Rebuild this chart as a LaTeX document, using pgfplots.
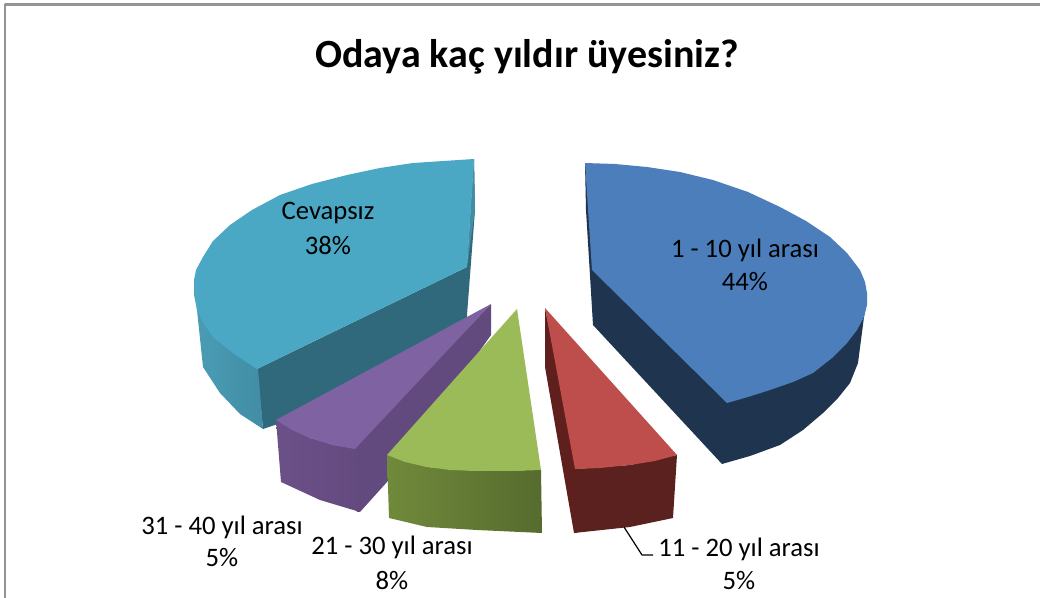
\documentclass[border=0pt]{standalone}
\usepackage{fontspec}
\setmainfont{Carlito}
\usepackage{pgfplots}
\pgfplotsset{compat=1.18}

\definecolor{tealTop}{HTML}{4BA8C4}
\definecolor{tealIn}{HTML}{30697B}
\definecolor{tealOutA}{HTML}{4A9DB5}
\definecolor{tealOutB}{HTML}{418DA5}
\definecolor{blueTop}{HTML}{4D7EBC}
\definecolor{blueDark}{HTML}{1F344F}
\definecolor{redTop}{HTML}{BE4E4B}
\definecolor{redDark}{HTML}{5A211F}
\definecolor{redIn}{HTML}{5E1F1D}
\definecolor{greenTop}{HTML}{9BBA58}
\definecolor{greenA}{HTML}{708A3B}
\definecolor{greenB}{HTML}{566B2E}
\definecolor{purpleTop}{HTML}{7F62A1}
\definecolor{purpleIn}{HTML}{634A7E}
\definecolor{purpleOutA}{HTML}{6C5089}
\definecolor{purpleOutB}{HTML}{634A7E}

\tikzset{lab/.style={font=\fontsize{20}{20}\selectfont}}

\begin{document}
\begin{tikzpicture}
\begin{axis}[
  scale only axis, width=780pt, height=448.5pt,
  xmin=0, xmax=1040, ymin=0, ymax=598, y dir=reverse,
  hide axis, clip=true,
  every axis plot/.append style={draw=none, mark=none, line join=round},
]
% page and frame
\addplot[fill=white] coordinates {(0,0)(1040,0)(1040,598)(0,598)};
\addplot[draw=black!42, line width=1.6pt] coordinates {(5,598)(5,4.5)(1040,4.5)};

% Cevapsiz 38%
\addplot[fill=tealIn] coordinates {(474,159)(475,210)(467,315)(467,360)(263,429)(257,369)(467,267)};
\addplot[left color=tealOutA, right color=tealOutB] coordinates {(194,280)(197,310)(203,367)(220,393)(240,414)(263,429)(258,369)(213,337)};
\addplot[fill=tealOutB] coordinates {(474,159)(475,210)(467,267)};
\addplot[fill=tealTop] coordinates {(474,159)(413,163)(380,168)(347,175)(312,184)(280,195)(252,210)(230,225)(213,241)(203,257)(196,270)(194,280)(194,295)(197,310)(204,324)(213,337)(234,354)(257,369)(467,267)};

% 31 - 40 yil arasi 5%
\addplot[fill=purpleIn] coordinates {(491,304)(352,449)(357,512)(360,512)(387,482)(491,335)};
\addplot[left color=purpleOutA, right color=purpleOutB] coordinates {(276,420)(310,438)(355,449)(360,512)(320,500)(281,482)};
\addplot[fill=purpleTop] coordinates {(491,304)(276,420)(292,430)(310,438)(332,445)(355,449)};

% 21 - 30 yil arasi 8%
\addplot[left color=greenA, right color=greenB] coordinates {(387,455)(427,467)(477,471)(541,470)(542,533)(477,530)(427,527)(389,518)};
\addplot[fill=greenTop] coordinates {(517,309)(387,455)(405,462)(427,467)(450,470)(477,471)(510,471)(541,470)};

% 11 - 20 yil arasi 5%
\addplot[fill=redIn] coordinates {(545,308)(578,469)(577,533)(574,533)(545,367)};
\addplot[fill=redDark] coordinates {(575,469)(630,465)(677,455)(673,518)(630,527)(574,533)};
\addplot[fill=redTop] coordinates {(545,308)(677,455)(655,461)(630,465)(600,468)(575,469)};
\addplot[draw=black, line width=0.9pt] coordinates {(624,527)(642,555)(653,555)};

% 1 - 10 yil arasi 44%
\addplot[fill=blueDark] coordinates {(585,163)(586,210)(593,325)(722,464)(750,456)(780,445)(803,430)(823,413)(838,398)(850,383)(858,363)(864,317)(867,293)};
\addplot[fill=blueTop] coordinates {(585,163)(615,164)(647,167)(680,172)(713,180)(748,192)(780,207)(806,221)(830,237)(847,253)(860,270)(865,282)(867,293)(867,305)(864,317)(857,330)(847,343)(832,358)(813,373)(793,382)(770,390)(748,397)(727,403)(592,270)};

% labels
\node[font=\fontsize{30}{30}\selectfont\bfseries] at (axis cs:527,56.5) {Odaya kaç yıldır üyesiniz?};
\node[lab] at (axis cs:328,213) {Cevapsız};
\node[lab] at (axis cs:328,246) {38\%};
\node[lab] at (axis cs:745,250) {1 - 10 yıl arası};
\node[lab] at (axis cs:745,282) {44\%};
\node[lab] at (axis cs:222,527) {31 - 40 yıl arası};
\node[lab] at (axis cs:222,558) {5\%};
\node[lab] at (axis cs:392,547) {21 - 30 yıl arası};
\node[lab] at (axis cs:392,581) {8\%};
\node[lab] at (axis cs:739,549) {11 - 20 yıl arası};
\node[lab] at (axis cs:739,581) {5\%};
\end{axis}
\end{tikzpicture}
\end{document}
